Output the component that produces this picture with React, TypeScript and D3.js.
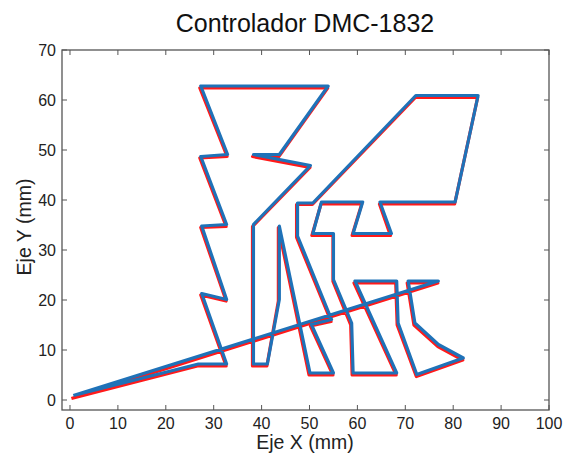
import React from "react";
import * as d3 from "d3";

const W = 566;
const H = 455;

const blueX = [0.7, 26.8, 32.7, 27.5, 32.7, 27.5, 32.7, 27.3, 32.9, 27.3, 53.9, 43.7, 38.3, 50.2, 38.3, 38.3, 41.2, 43.7, 43.7, 50.1, 55.0, 50.4, 54.6, 47.5, 47.5, 50.7, 72.2, 85.2, 80.4, 64.7, 67.1, 59.1, 61.1, 52.5, 50.7, 55.0, 55.0, 58.8, 59.1, 68.2, 59.5, 68.2, 68.5, 72.4, 82.1, 76.9, 72.0, 70.6, 76.9, 0.7];
const blueY = [0.9, 7.2, 7.2, 21.3, 20.1, 34.8, 35.1, 48.7, 49.1, 62.8, 62.8, 49.1, 49.1, 46.9, 35.1, 7.2, 7.2, 20.1, 34.8, 5.4, 5.4, 15.1, 16.1, 32.8, 39.4, 39.4, 60.9, 60.9, 39.6, 39.6, 33.3, 33.3, 39.6, 39.6, 33.3, 33.3, 24.1, 15.4, 5.4, 5.4, 23.8, 23.8, 15.4, 5.1, 8.4, 11.1, 15.4, 23.8, 23.8, 0.9];
const redX = [0.3, 26.6, 32.6, 27.3, 32.6, 27.3, 32.6, 27.1, 32.8, 27.1, 53.8, 43.6, 38.1, 50.1, 38.1, 38.1, 41.1, 43.5, 43.5, 49.9, 54.9, 50.2, 54.5, 47.3, 47.3, 50.6, 72.1, 85.1, 80.3, 64.6, 66.9, 58.9, 60.9, 52.4, 50.5, 54.9, 54.9, 58.6, 58.9, 68.1, 59.3, 68.0, 68.3, 72.3, 82.0, 76.8, 71.8, 70.4, 76.8, 0.3];
const redY = [0.3, 6.8, 6.8, 21.0, 19.8, 34.5, 34.7, 48.4, 48.7, 62.4, 62.4, 48.7, 48.7, 46.5, 34.7, 6.8, 6.8, 19.8, 34.5, 5.0, 5.0, 14.8, 15.7, 32.5, 39.1, 39.1, 60.5, 60.5, 39.2, 39.2, 32.9, 32.9, 39.2, 39.2, 32.9, 32.9, 23.7, 15.0, 5.0, 5.0, 23.4, 23.4, 15.0, 4.7, 8.0, 10.7, 15.0, 23.4, 23.4, 0.3];

const xTicks = [0, 10, 20, 30, 40, 50, 60, 70, 80, 90, 100];
const yTicks = [0, 10, 20, 30, 40, 50, 60, 70];

const titleText = "Controlador DMC-1832";
const xLabel = "Eje X (mm)";
const yLabel = "Eje Y (mm)";

const FONT = "'Liberation Sans', Arial, sans-serif";

export default function App() {
  const left = 62, right = 549, top = 50, bottom = 410;
  const x = d3.scaleLinear().domain([-1.67, 100]).range([left, right]);
  const y = d3.scaleLinear().domain([-2, 70]).range([bottom, top]);

  const line = d3
    .line<[number, number]>()
    .x((d) => x(d[0]))
    .y((d) => y(d[1]));

  const bluePts: [number, number][] = blueX.map((v, i) => [v, blueY[i]]);
  const redPts: [number, number][] = redX.map((v, i) => [v, redY[i]]);

  const axisColor = "#555";
  const tickLen = 5;

  return (
    <svg
      width={W}
      height={H}
      style={{ position: "absolute", left: 0, top: 0, background: "#fff" }}
      fontFamily={FONT}
    >
      <rect x={0} y={0} width={W} height={H} fill="#fff" />
      <path d={line(redPts) || ""} fill="none" stroke="#ff1a1a" strokeWidth={3.2} strokeLinejoin="round" />
      <path d={line(bluePts) || ""} fill="none" stroke="#1f72b8" strokeWidth={3.2} strokeLinejoin="round" />

      <rect x={left} y={top} width={right - left} height={bottom - top} fill="none" stroke={axisColor} strokeWidth={1.3} />

      {xTicks.map((t) => (
        <g key={"x" + t}>
          <line x1={x(t)} x2={x(t)} y1={bottom} y2={bottom - tickLen} stroke={axisColor} />
          <line x1={x(t)} x2={x(t)} y1={top} y2={top + tickLen} stroke={axisColor} />
          <text x={x(t)} y={429} textAnchor="middle" fontSize={16} fill="#222">
            {t}
          </text>
        </g>
      ))}
      {yTicks.map((t) => (
        <g key={"y" + t}>
          <line x1={left} x2={left + tickLen} y1={y(t)} y2={y(t)} stroke={axisColor} />
          <line x1={right} x2={right - tickLen} y1={y(t)} y2={y(t)} stroke={axisColor} />
          <text x={56} y={y(t) + 5.8} textAnchor="end" fontSize={16} fill="#222">
            {t}
          </text>
        </g>
      ))}

      <text x={305} y={32} textAnchor="middle" fontSize={25} fill="#111">
        {titleText}
      </text>
      <text x={305} y={449} textAnchor="middle" fontSize={19.5} fill="#222">
        {xLabel}
      </text>
      <text
        transform={`translate(31, 227) rotate(-90)`}
        textAnchor="middle"
        fontSize={19.5}
        fill="#222"
      >
        {yLabel}
      </text>
    </svg>
  );
}
